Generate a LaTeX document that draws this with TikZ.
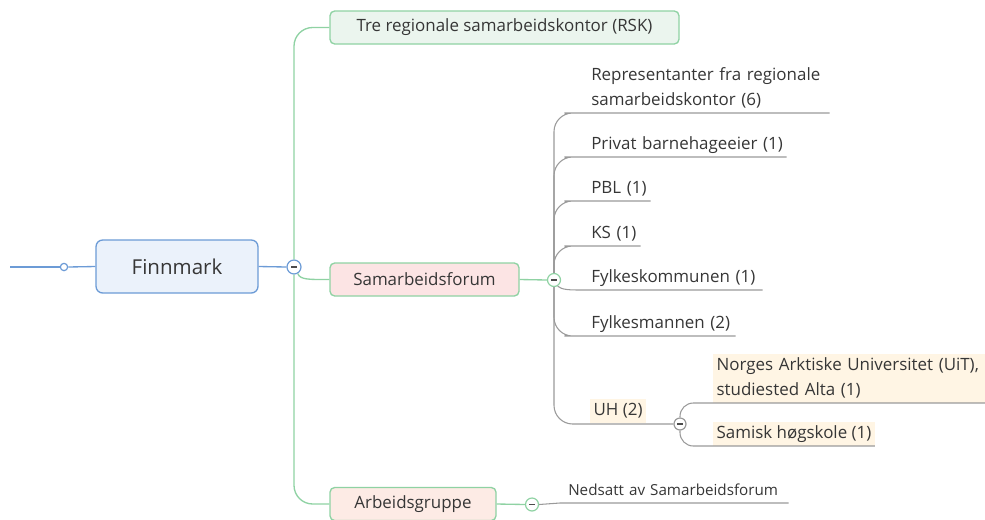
\documentclass[tikz,border=0pt]{standalone}
\usepackage{fontspec}
\setmainfont{Open Sans}
\definecolor{bline}{HTML}{6C9BD6}
\definecolor{bfill}{HTML}{EBF2FB}
\definecolor{gline}{HTML}{8FD2A3}
\definecolor{rskfill}{HTML}{EBF5EE}
\definecolor{sffill}{HTML}{FCE4E4}
\definecolor{agfill}{HTML}{FDEBE5}
\definecolor{grline}{HTML}{9A9A9A}
\definecolor{hl}{HTML}{FFF5E4}
\definecolor{txt}{HTML}{363636}
\begin{document}
\begin{tikzpicture}[x=0.75pt,y=-0.75pt,
  font=\fontsize{12.7}{18.75}\selectfont,
  topic/.style={draw=gline, line width=1pt, rounded corners=3.5pt, minimum height=24.75pt, inner sep=0pt, text=txt},
  knob/.style={circle, fill=white, draw, line width=0.9pt, minimum size=#1, inner sep=0pt,
    path picture={\draw[line width=1.1pt, color=black!70] ([xshift=-2.2pt]path picture bounding box.center) -- ([xshift=2.2pt]path picture bounding box.center);}},
  dot/.style={circle, fill=white, draw=bline, line width=0.9pt, minimum size=5.5pt, inner sep=0pt},
  leaf/.style={anchor=south west, align=left, inner xsep=6pt, inner ysep=0pt, text depth=5.25pt, text=txt},
  hleaf/.style={anchor=south west, align=left, inner xsep=2.5pt, inner ysep=0pt, text height=12.5pt, text depth=5.25pt, fill=hl, text=txt},
  twolines/.style={text depth=24pt},
  gconn/.style={draw=gline, line width=1pt},
  grconn/.style={draw=grline, line width=0.8pt},
  bconn/.style={draw=bline, line width=1pt}]
\useasboundingbox (0,0) rectangle (985,519);
% root
\coordinate (s0) at (10,267);
\node[dot] (k0) at (64,267) {};
\node[draw=bline, fill=bfill, line width=1pt, rounded corners=5pt, minimum width=121.5pt, minimum height=39.75pt, font=\fontsize{15.4}{18}\selectfont, text=txt] (fin) at (177,266.5) {Finnmark};
\node[knob=10.5pt, draw=bline] (m0) at (294,267) {};
\draw[bconn] (s0) -- (k0.west);
\draw[bconn] (k0.east) -- (fin.west);
\draw[bconn] (fin.east) -- (m0.west);
% main topics
\node[topic, fill=rskfill, minimum width=261.75pt] (rsk) at (504.5,27.5) {Tre regionale samarbeidskontor (RSK)};
\node[topic, fill=sffill, minimum width=141.75pt] (sf) at (424.5,279.5) {Samarbeidsforum};
\node[topic, fill=agfill, minimum width=124.5pt] (ag) at (413,504) {Arbeidsgruppe};
\draw[gconn, rounded corners=14pt] (m0.north) |- (rsk.west);
\draw[gconn, rounded corners=14pt] (m0.south) |- (ag.west);
\draw[gconn] (m0.-60) .. controls (300,280) and (310,279.5) .. (sf.west);
% Samarbeidsforum children
\node[knob=9.75pt, draw=gline] (m1) at (554,280) {};
\draw[gconn] (sf.east) -- (m1.west);
\node[leaf, twolines, text width=172.5pt] (rep) at (583,113) {\mbox{Representanter fra regionale}\\\mbox{samarbeidskontor (6)}};
\node[leaf, text width=140.25pt] (priv) at (583,157) {\mbox{Privat barnehageeier (1)}};
\node[leaf, text width=38.25pt] (pbl) at (583,201) {\mbox{PBL (1)}};
\node[leaf, text width=30.75pt] (ks) at (583,246) {\mbox{KS (1)}};
\node[leaf, text width=122.25pt] (fk) at (583,290) {\mbox{Fylkeskommunen (1)}};
\node[leaf, text width=102pt] (fm) at (583,336) {\mbox{Fylkesmannen (2)}};
\node[hleaf] (uh) at (590,423) {UH (2)};
\node[knob=9pt, draw=grline] (m4) at (680,424) {};
\foreach \n in {rep,priv,pbl,ks}{
  \draw[grconn, rounded corners=14pt] (m1.north) |- (\n.south west) -- (\n.south east);
}
\draw[grconn] (m1.-60) .. controls (562,290) and (570,290) .. (fk.south west) -- (fk.south east);
\draw[grconn, rounded corners=14pt] (m1.south) |- (fm.south west) -- (fm.south east);
\draw[grconn, rounded corners=14pt] (m1.south) |- (m4.west);
% UH children
\node[hleaf, twolines, text width=210pt] (nor) at (713,403) {\mbox{Norges Arktiske Universitet (UiT),}\\\mbox{studiested Alta (1)}};
\node[hleaf] (sam) at (713,446) {Samisk høgskole (1)};
\draw[grconn, rounded corners=10pt] (m4.north) |- (nor.south west) -- (nor.south east);
\draw[grconn, rounded corners=10pt] (m4.south) |- (sam.south west) -- (sam.south east);
% Arbeidsgruppe child
\node[knob=9.75pt, draw=gline] (m3) at (532,504.5) {};
\draw[gconn] (ag.east) -- (m3.west);
\node[leaf, text width=159pt, font=\fontsize{11.4}{16}\selectfont] (ned) at (560,503) {\mbox{Nedsatt av Samarbeidsforum}};
\draw[grconn] (m3.east) -- (ned.south west) -- (ned.south east);
\end{tikzpicture}
\end{document}
